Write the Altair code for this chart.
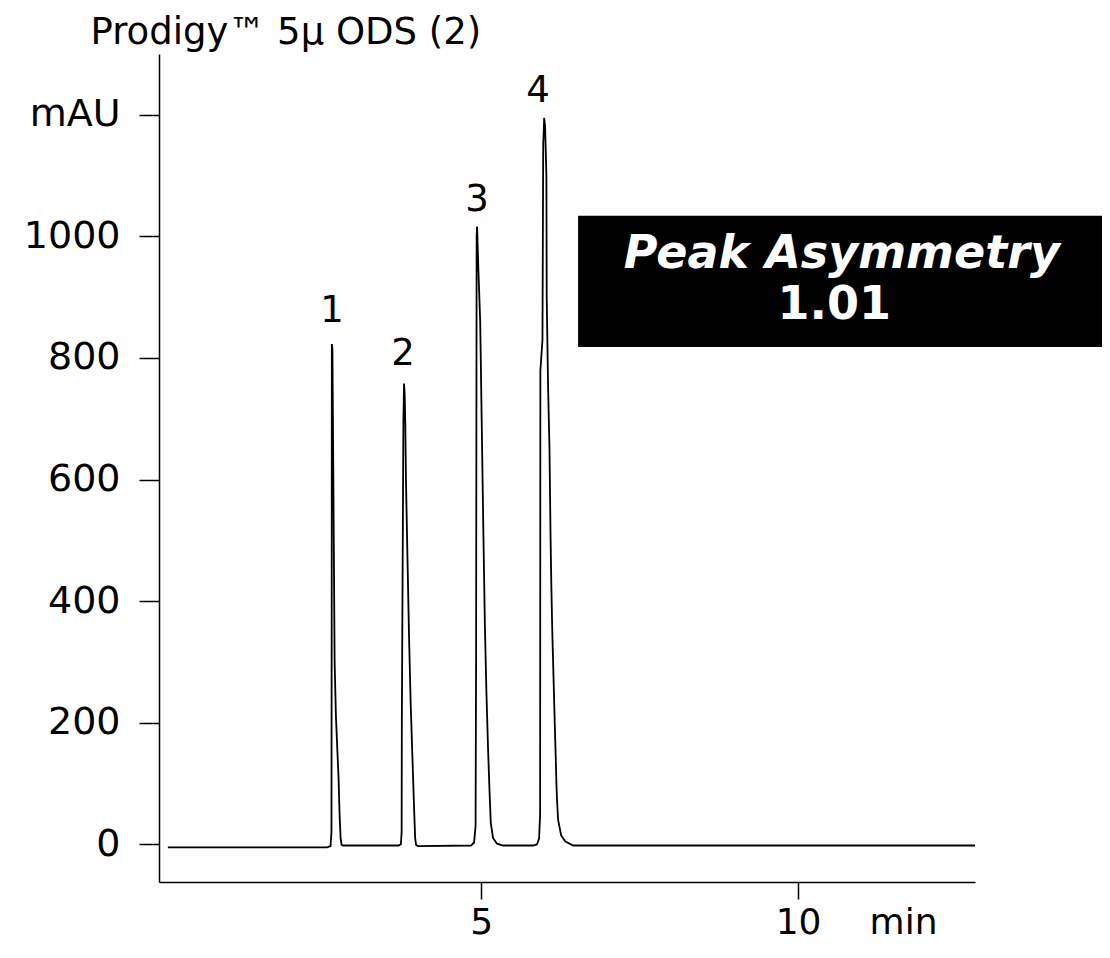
import altair as alt
import pandas as pd

# Chromatogram trace: retention time (min) and signal (mAU)
time_min = [
    0.06, 2.571, 2.625, 2.640, 2.644, 2.646, 2.655, 2.670, 2.690, 2.710, 2.735, 2.752, 2.768, 2.784, 2.800, 2.823,
    3.700, 3.735, 3.747, 3.750, 3.775, 3.785, 3.795, 3.805, 3.815, 3.839, 3.864, 3.890, 3.918, 3.943, 3.960, 3.975, 4.006,
    4.842, 4.890, 4.913, 4.921, 4.930, 4.937, 4.956, 4.986, 5.009, 5.035, 5.060, 5.084, 5.109, 5.134, 5.153, 5.189, 5.252, 5.347,
    5.820, 5.883, 5.915, 5.931, 5.935, 5.968, 5.980, 5.995, 6.010, 6.030, 6.035, 6.057, 6.079, 6.095, 6.109, 6.123, 6.136,
    6.150, 6.164, 6.177, 6.188, 6.199, 6.215, 6.262, 6.325, 6.451, 12.79,
]
signal_mau = [
    -5, -5, -3, 20, 400, 823, 815, 600, 300, 212, 150, 110, 50, 10, -1, -2,
    -2, 0, 20, 200, 700, 758, 740, 690, 600, 470, 340, 230, 140, 60, 10, -1, -3,
    -2, 3, 30, 300, 1000, 1016, 950, 860, 700, 520, 360, 250, 160, 85, 35, 10, 1, -2,
    -2, 0, 10, 50, 779, 830, 1150, 1195, 1180, 1100, 900, 750, 650, 510, 420, 350, 300,
    245, 190, 145, 100, 70, 40, 15, 5, -2, -2,
]

# Peak numbers and their label anchors
peak_names = ["1", "2", "3", "4"]
peak_label_time = [2.650, 3.770, 4.937, 5.899]
peak_label_mau = [859, 789, 1041, 1221]

# Annotation box
box_t = [6.53]
box_t2 = [15.0]
box_v = [818]
box_v2 = [1034]
box_lines = ["Peak Asymmetry", "1.01"]
box_line_t = [10.69, 10.57]
box_line_v = [948, 864]

title_text = "Prodigy\u2122 5\u03bc ODS (2)"
x_ticks = [5, 10]
y_ticks = [0, 200, 400, 600, 800, 1000, 1200]

FONT = "DejaVu Sans"

trace = pd.DataFrame({"t": time_min, "v": signal_mau, "i": list(range(len(time_min)))})
labels = pd.DataFrame({"t": peak_label_time, "v": peak_label_mau, "name": peak_names})
box = pd.DataFrame({"t": box_t, "t2": box_t2, "v": box_v, "v2": box_v2})
box_text = pd.DataFrame({"t": box_line_t, "v": box_line_v, "txt": box_lines})

xscale = alt.Scale(domain=[-0.08, 12.79], nice=False, zero=False)
yscale = alt.Scale(domain=[-62, 1300], nice=False, zero=False)

x_axis = alt.Axis(
    values=x_ticks, grid=False, tickSize=17, tickWidth=1.5, tickColor="black",
    domainColor="black", domainWidth=1.5, labelFont=FONT, labelFontSize=36,
    labelColor="black", labelPadding=6, labelFlush=False, format="d",
    title="min", titleFont=FONT, titleFontSize=36, titleFontWeight="normal",
    titleColor="black", titleX=744, titleY=51, titleAlign="center",
    titleBaseline="alphabetic",
)
y_axis = alt.Axis(
    values=y_ticks, grid=False, tickSize=20, tickWidth=1.5, tickColor="black",
    domainColor="black", domainWidth=1.5, labelFont=FONT, labelFontSize=38,
    labelColor="black", labelPadding=19, format="d", labelOverlap=False,
    labelExpr="datum.value == 1200 ? 'mAU' : datum.label",
    title=title_text, titleFont=FONT, titleFontSize=37, titleFontWeight="normal",
    titleColor="black", titleAngle=0, titleX=-69, titleY=-11, titleAlign="left",
    titleBaseline="alphabetic",
)

line = alt.Chart(trace).mark_line(color="black", strokeWidth=1.8).encode(
    x=alt.X("t:Q", scale=xscale, axis=x_axis),
    y=alt.Y("v:Q", scale=yscale, axis=y_axis),
    order="i:Q",
)

peak_text = alt.Chart(labels).mark_text(
    font=FONT, fontSize=37, color="black", align="center", baseline="alphabetic"
).encode(x=alt.X("t:Q", scale=xscale), y=alt.Y("v:Q", scale=yscale), text="name:N")

rect = alt.Chart(box).mark_rect(color="black").encode(
    x=alt.X("t:Q", scale=xscale), x2="t2:Q",
    y=alt.Y("v:Q", scale=yscale), y2="v2:Q",
)

box_title = alt.Chart(box_text.iloc[[0]]).mark_text(
    font=FONT, fontSize=46, fontWeight="bold", fontStyle="italic", color="white",
    align="center", baseline="alphabetic"
).encode(x=alt.X("t:Q", scale=xscale), y=alt.Y("v:Q", scale=yscale), text="txt:N")

box_value = alt.Chart(box_text.iloc[[1]]).mark_text(
    font=FONT, fontSize=46, fontWeight="bold", color="white",
    align="center", baseline="alphabetic"
).encode(x=alt.X("t:Q", scale=xscale), y=alt.Y("v:Q", scale=yscale), text="txt:N")

chart = alt.layer(line, rect, box_title, box_value, peak_text).properties(
    width=816,
    height=828,
    autosize=alt.AutoSizeParams(type="none"),
    padding={"left": 151, "top": 46, "right": 127, "bottom": 66},
    background="white",
).configure_view(stroke=None)

chart.save("out.html", embed_options={"renderer": "svg", "actions": False})
